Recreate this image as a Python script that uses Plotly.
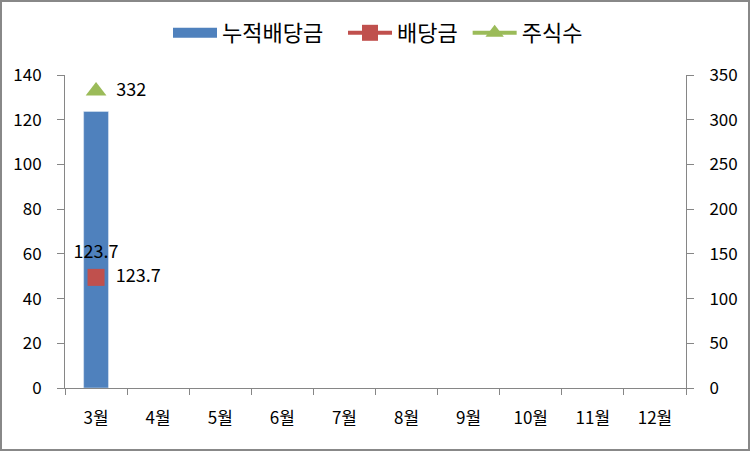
import plotly.graph_objects as go

months = ["3월", "4월", "5월", "6월", "7월", "8월", "9월", "10월", "11월", "12월"]
cum_div = [123.7, None, None, None, None, None, None, None, None, None]
dividend = [123.7, None, None, None, None, None, None, None, None, None]
shares = [332, None, None, None, None, None, None, None, None, None]
legend_names = ["누적배당금", "배당금", "주식수"]

FONT = "Noto Sans CJK KR"
W, H = 752, 452
L, R, T, B = 65, 66, 75, 64
pw, ph = W - L - R, H - T - B

def px(x):
    return (x - L) / pw

def py(y):
    return (H - B - y) / ph

BLUE, RED, GREEN = "#4F81BD", "#C0504D", "#9BBB59"
NB = "\u00a0"

fig = go.Figure()
fig.add_trace(go.Bar(
    x=months, y=cum_div, name=legend_names[0], marker_color=BLUE, width=0.4,
    text=["123.7" if v is not None else "" for v in cum_div],
    textposition="inside", insidetextanchor="middle", textangle=0,
    constraintext="none", insidetextfont=dict(color="black", size=18, family=FONT),
    cliponaxis=False, showlegend=False, legendgroup="cum",
))
# legend entry for the bar series (wide rectangle like the original)
fig.add_trace(go.Scatter(
    x=[None], y=[None], name=legend_names[0] + NB * 3, mode="lines",
    line=dict(color=BLUE, width=12), legendgroup="cum",
))
fig.add_trace(go.Scatter(
    x=months, y=dividend, name=legend_names[1] + NB * 1, yaxis="y2", mode="lines+markers+text",
    line=dict(color=RED, width=4),
    marker=dict(symbol="square", size=17, color=RED),
    text=["  123.7" if v is not None else "" for v in dividend],
    textposition="middle right", textfont=dict(size=18, color="black", family=FONT),
    cliponaxis=False,
))
fig.add_trace(go.Scatter(
    x=months, y=shares, name=legend_names[2], yaxis="y2", mode="lines+markers+text",
    line=dict(color=GREEN, width=4),
    marker=dict(symbol="triangle-up", size=18, color=GREEN),
    text=["  332" if v is not None else "" for v in shares],
    textposition="middle right", textfont=dict(size=18, color="black", family=FONT),
    cliponaxis=False,
))

axis_col = "#868686"
fig.update_layout(
    width=W, height=H,
    margin=dict(l=L, r=R, t=T, b=B),
    paper_bgcolor="white", plot_bgcolor="white",
    font=dict(family=FONT, size=17, color="black"),
    showlegend=True,
    legend=dict(orientation="h", x=px(378), xanchor="center", y=py(33), yanchor="middle",
                font=dict(size=22, family=FONT), itemwidth=44, traceorder="normal"),
    xaxis=dict(type="category", showgrid=False, showline=True, linecolor=axis_col, linewidth=1,
               ticks="outside", tickson="boundaries", ticklen=6, tickcolor=axis_col,
               tickfont=dict(size=17), range=[-0.5, 9.5], ticklabelstandoff=15),
    yaxis=dict(range=[0, 140], dtick=20, showgrid=False, showline=True, linecolor=axis_col,
               ticks="outside", ticklen=7, tickcolor=axis_col, zeroline=False,
               tickfont=dict(size=17), ticklabelstandoff=12),
    yaxis2=dict(range=[0, 350], dtick=50, overlaying="y", side="right", showgrid=False,
                showline=True, linecolor=axis_col, ticks="outside", ticklen=7,
                tickcolor=axis_col, zeroline=False, tickfont=dict(size=17),
                ticklabelstandoff=12),
    shapes=[dict(type="rect", xref="paper", yref="paper",
                 x0=px(1), x1=px(749), y0=py(450), y1=py(1),
                 line=dict(color="#888888", width=2), fillcolor="rgba(0,0,0,0)", layer="below")],
)

fig.write_html("out.html", config={"displayModeBar": False},
               post_script="document.body.style.margin='0';")
